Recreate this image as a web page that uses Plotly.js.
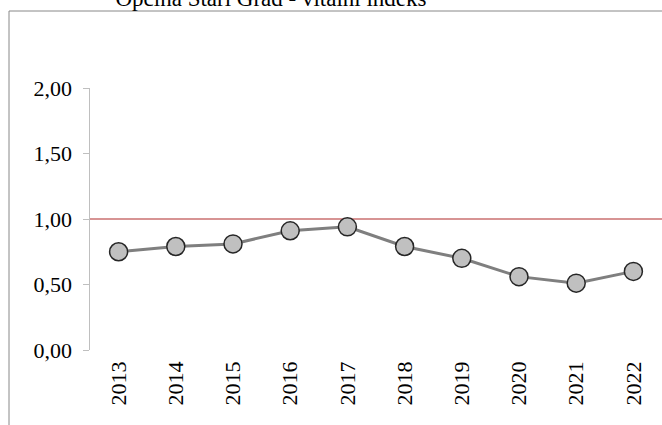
<!DOCTYPE html>
<html>
<head>
<meta charset="utf-8">
<script src="https://cdn.plot.ly/plotly-3.0.1.min.js"></script>
<style>html,body{margin:0;padding:0;background:#fff;}#chart{width:662px;height:425px;}</style>
</head>
<body>
<div id="chart"></div>
<script>
const years = ['2013','2014','2015','2016','2017','2018','2019','2020','2021','2022'];
const vitalIndex = [0.75, 0.79, 0.81, 0.91, 0.94, 0.79, 0.70, 0.56, 0.51, 0.60];
const yTicks = [0, 0.5, 1.0, 1.5, 2.0];
const referenceLevel = 1.0;
const chartTitle = 'Općina Stari Grad - vitalni indeks';

const W = 662, H = 425;
const ml = 90, mr = 0, mt = 88, mb = 75;
const pw = W - ml - mr, ph = H - mt - mb;
const font = 'Liberation Serif, Times New Roman, serif';

const trace = {
  x: years,
  y: vitalIndex,
  type: 'scatter',
  mode: 'lines+markers',
  line: {color: '#7f7f7f', width: 3},
  marker: {size: 18, color: '#c0c0c0', line: {color: '#262626', width: 1.5}},
  cliponaxis: false,
  hoverinfo: 'x+y'
};

const layout = {
  width: W, height: H,
  margin: {l: ml, r: mr, t: mt, b: mb, pad: 0},
  paper_bgcolor: '#fff', plot_bgcolor: '#fff',
  showlegend: false,
  font: {family: font, size: 22, color: '#000'},
  title: {
    text: chartTitle,
    font: {family: font, size: 23, color: '#000'},
    xref: 'container', x: 271 / W, xanchor: 'center',
    yref: 'container', y: 1 - 6 / H, yanchor: 'bottom'
  },
  xaxis: {
    type: 'category',
    range: [-0.5, years.length - 0.5],
    showline: false, showgrid: false, zeroline: false,
    ticks: '', tickangle: -90,
    tickfont: {family: font, size: 22, color: '#000'},
    ticklabelstandoff: 6
  },
  yaxis: {
    range: [0, 2],
    tickvals: yTicks,
    tickformat: '.2f',
    showline: true, linecolor: '#bfbfbf', linewidth: 1.5,
    showgrid: false, zeroline: false,
    ticks: 'outside', ticklen: 6, tickcolor: '#bfbfbf', tickwidth: 1,
    tickfont: {family: font, size: 22, color: '#000'},
    ticklabelstandoff: 6
  },
  separators: ',.',
  shapes: [
    {type: 'line', xref: 'paper', yref: 'y', x0: 0, x1: 1, y0: referenceLevel, y1: referenceLevel,
     line: {color: '#b02a2a', width: 1.2}, layer: 'below'},
    {type: 'line', xref: 'paper', yref: 'paper', x0: (9 - ml) / pw, x1: (9 - ml) / pw,
     y0: -(mb + 5) / ph, y1: (H - mb - 11) / ph,
     line: {color: '#888', width: 1}},
    {type: 'line', xref: 'paper', yref: 'paper', x0: (9 - ml) / pw, x1: (W + 5 - ml) / pw,
     y0: (H - mb - 11) / ph, y1: (H - mb - 11) / ph,
     line: {color: '#888', width: 1}}
  ]
};

Plotly.newPlot('chart', [trace], layout, {displayModeBar: false, staticPlot: true});
</script>
</body>
</html>
